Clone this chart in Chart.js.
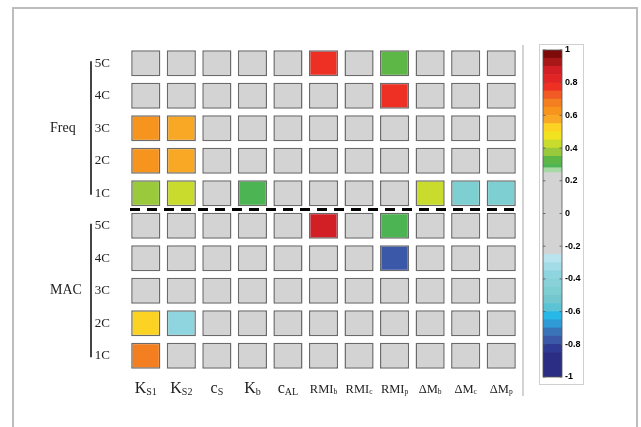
<!DOCTYPE html>
<html>
<head>
    <title>Sensitivity map</title>
    <script src="https://cdnjs.cloudflare.com/ajax/libs/Chart.js/4.4.1/chart.umd.min.js"></script>
    <style>
        body { margin: 0; background: #fff; }
        .wrap { position: relative; width: 641px; height: 427px; }
        #mapChart { position: absolute; left: 0; top: 0; }
        #barChart { position: absolute; left: 530px; top: 0; }
    </style>
</head>
<body>
    <div class="wrap">
        <canvas id="mapChart" width="641" height="427"></canvas>
        <canvas id="barChart" width="100" height="427"></canvas>
    </div>

    <script>
        // column parameters (name + subscript)
        const colNames = ['K', 'K', 'c', 'K', 'c', 'RMI', 'RMI', 'RMI', 'ΔM', 'ΔM', 'ΔM'];
        const colSubs = ['S1', 'S2', 'S', 'b', 'AL', 'b', 'c', 'p', 'b', 'c', 'p'];
        const rowNames = ['5C', '4C', '3C', '2C', '1C'];

        // correlation values, rows 5C..1C
        const freqVals = [
            [0, 0, 0, 0, 0, 0.77, 0, 0.33, 0, 0, 0],
            [0, 0, 0, 0, 0, 0, 0, 0.77, 0, 0, 0],
            [0.63, 0.58, 0, 0, 0, 0, 0, 0, 0, 0, 0],
            [0.63, 0.58, 0, 0, 0, 0, 0, 0, 0, 0, 0],
            [0.38, 0.43, 0, 0.29, 0, 0, 0, 0, 0.43, -0.47, -0.47]
        ];
        const macVals = [
            [0, 0, 0, 0, 0, 0.87, 0, 0.29, 0, 0, 0],
            [0, 0, 0, 0, 0, 0, 0, -0.77, 0, 0, 0],
            [0, 0, 0, 0, 0, 0, 0, 0, 0, 0, 0],
            [0.52, -0.38, 0, 0, 0, 0, 0, 0, 0, 0, 0],
            [0.67, 0, 0, 0, 0, 0, 0, 0, 0, 0, 0]
        ];

        // colour map (jet with a grey dead band)
        const cmapEdges = [-1, -0.85, -0.8, -0.75, -0.7, -0.65, -0.6, -0.55, -0.5, -0.45, -0.4, -0.35, -0.3, -0.25,
            0.25, 0.28, 0.3, 0.35, 0.4, 0.45, 0.5, 0.55, 0.6, 0.65, 0.7, 0.75, 0.8, 0.85, 0.9, 0.95, 1];
        const cmapColors = ['#2b2d84', '#2f3a94', '#3b58a8', '#3a74b8', '#2e9ad6', '#27b8e8', '#5cc3d4', '#73c7cf',
            '#7ecfd2', '#88d1d9', '#8fd5e0', '#a3dbe7', '#b9e3ee', '#d3d3d3', '#a6d9a3', '#4cb452', '#5db746',
            '#9aca3c', '#c9dc2e', '#f1e31f', '#fdd323', '#f9a825', '#f7941d', '#f47f20', '#f15a24', '#ee2f24',
            '#e12426', '#d21f26', '#a81818', '#7e0a0a'];
        const cbarTicks = [-1, -0.8, -0.6, -0.4, -0.2, 0, 0.2, 0.4, 0.6, 0.8, 1];

        function colorFor(v) {
            for (let i = 0; i < cmapColors.length; i++) {
                if (v >= cmapEdges[i] && v < cmapEdges[i + 1]) return cmapColors[i];
            }
            return cmapColors[cmapColors.length - 1];
        }

        const groups = [
            { name: 'Freq', vals: freqVals, top: 10 },
            { name: 'MAC', vals: macVals, top: 5 }
        ];

        const datasets = [];
        groups.forEach(g => g.vals.forEach((row, r) => {
            const y = g.top - r;
            datasets.push({
                data: row.map(() => [y - 0.4, y + 0.4]),
                backgroundColor: row.map(colorFor),
                borderColor: '#6a6a6a',
                borderWidth: 1.5,
                borderSkipped: false,
                grouped: false,
                barPercentage: 0.82,
                categoryPercentage: 1
            });
        }));

        const decor = {
            id: 'decor',
            afterDraw(chart) {
                const { ctx, chartArea: a, scales: { x, y } } = chart;
                ctx.save();
                // outer frame
                ctx.strokeStyle = '#bdbdbd';
                ctx.lineWidth = 2;
                ctx.beginPath();
                ctx.moveTo(13, 427); ctx.lineTo(13, 8); ctx.lineTo(637, 8); ctx.lineTo(637, 427);
                ctx.stroke();
                // separator next to the colour bar
                ctx.strokeStyle = '#c4c4c4';
                ctx.lineWidth = 1.5;
                ctx.beginPath(); ctx.moveTo(523, 45); ctx.lineTo(523, 396); ctx.stroke();
                // dashed line between Freq and MAC
                const yMid = y.getPixelForValue(5.5);
                ctx.setLineDash([10, 7]);
                ctx.strokeStyle = '#000';
                ctx.lineWidth = 3;
                ctx.beginPath(); ctx.moveTo(130, yMid); ctx.lineTo(a.right + 2, yMid); ctx.stroke();
                ctx.setLineDash([]);
                // brackets and group names
                ctx.strokeStyle = '#444';
                ctx.lineWidth = 2;
                ctx.fillStyle = '#222';
                ctx.font = '14px "Liberation Serif"';
                ctx.textBaseline = 'middle';
                ctx.textAlign = 'left';
                groups.forEach(g => {
                    const y0 = y.getPixelForValue(g.top) - 2;
                    const y1 = y.getPixelForValue(g.top - 4) + 1.5;
                    ctx.beginPath(); ctx.moveTo(91, y0); ctx.lineTo(91, y1); ctx.stroke();
                    ctx.fillText(g.name, 50, (y0 + y1) / 2);
                });
                // column labels with subscripts
                ctx.textBaseline = 'alphabetic';
                colNames.forEach((n, i) => {
                    const big = i < 5;
                    const f1 = (big ? 16 : 12.5) + 'px "Liberation Serif"';
                    const f2 = (big ? 10 : 7.5) + 'px "Liberation Serif"';
                    ctx.font = f1;
                    const w1 = ctx.measureText(n).width;
                    ctx.font = f2;
                    const w2 = ctx.measureText(colSubs[i]).width;
                    const cx = x.getPixelForValue(i) - (w1 + w2) / 2;
                    ctx.font = f1;
                    ctx.fillText(n, cx, 393);
                    ctx.font = f2;
                    ctx.fillText(colSubs[i], cx + w1, 393 + (big ? 2 : 1));
                });
                ctx.restore();
            }
        };

        new Chart(document.getElementById('mapChart'), {
            type: 'bar',
            data: {
                labels: colNames.map((n, i) => n + colSubs[i]),
                datasets: datasets
            },
            options: {
                responsive: false,
                animation: false,
                layout: { padding: { left: 0, right: 122, top: 47, bottom: 55 } },
                plugins: { legend: { display: false }, tooltip: { enabled: false } },
                scales: {
                    x: { display: false },
                    y: {
                        min: 0.5,
                        max: 10.5,
                        afterFit: s => { s.width = 128; },
                        afterBuildTicks: s => { s.ticks = [1, 2, 3, 4, 5, 6, 7, 8, 9, 10].map(v => ({ value: v })); },
                        grid: { display: false, drawTicks: false },
                        border: { display: false },
                        ticks: {
                            padding: 18,
                            color: '#222',
                            font: { family: 'Liberation Serif', size: 13 },
                            callback: v => rowNames[(10 - v) % 5]
                        }
                    }
                }
            },
            plugins: [decor]
        });

        const cbarFrame = {
            id: 'cbarFrame',
            afterDraw(chart) {
                const { ctx, chartArea: a, scales: { y } } = chart;
                ctx.save();
                ctx.strokeStyle = '#d0d0d0';
                ctx.lineWidth = 1;
                ctx.strokeRect(9.5, 44.5, 44, 340);
                ctx.strokeStyle = '#555';
                ctx.lineWidth = 0.8;
                ctx.strokeRect(a.left, a.top, a.right - a.left, a.bottom - a.top);
                cbarTicks.forEach(v => {
                    const py = y.getPixelForValue(v);
                    ctx.beginPath();
                    ctx.moveTo(a.left, py); ctx.lineTo(a.left + 2.5, py);
                    ctx.moveTo(a.right, py); ctx.lineTo(a.right - 2.5, py);
                    ctx.stroke();
                });
                ctx.restore();
            }
        };

        new Chart(document.getElementById('barChart'), {
            type: 'bar',
            data: {
                labels: [''],
                datasets: cmapColors.map((c, i) => ({
                    data: [[cmapEdges[i], cmapEdges[i + 1]]],
                    backgroundColor: c,
                    borderWidth: 0,
                    grouped: false,
                    barPercentage: 1,
                    categoryPercentage: 1
                }))
            },
            options: {
                responsive: false,
                animation: false,
                layout: { padding: { left: 13, right: 13, top: 50, bottom: 50 } },
                plugins: { legend: { display: false }, tooltip: { enabled: false } },
                scales: {
                    x: { display: false },
                    y: {
                        position: 'right',
                        min: -1,
                        max: 1,
                        afterFit: s => { s.width = 55; },
                        afterBuildTicks: s => { s.ticks = cbarTicks.map(v => ({ value: v })); },
                        grid: { display: false, drawTicks: false },
                        border: { display: false },
                        ticks: {
                            padding: 3,
                            color: '#000',
                            font: { family: 'Liberation Sans', weight: 'bold', size: 9 },
                            callback: v => String(v)
                        }
                    }
                }
            },
            plugins: [cbarFrame]
        });
    </script>
</body>
</html>
